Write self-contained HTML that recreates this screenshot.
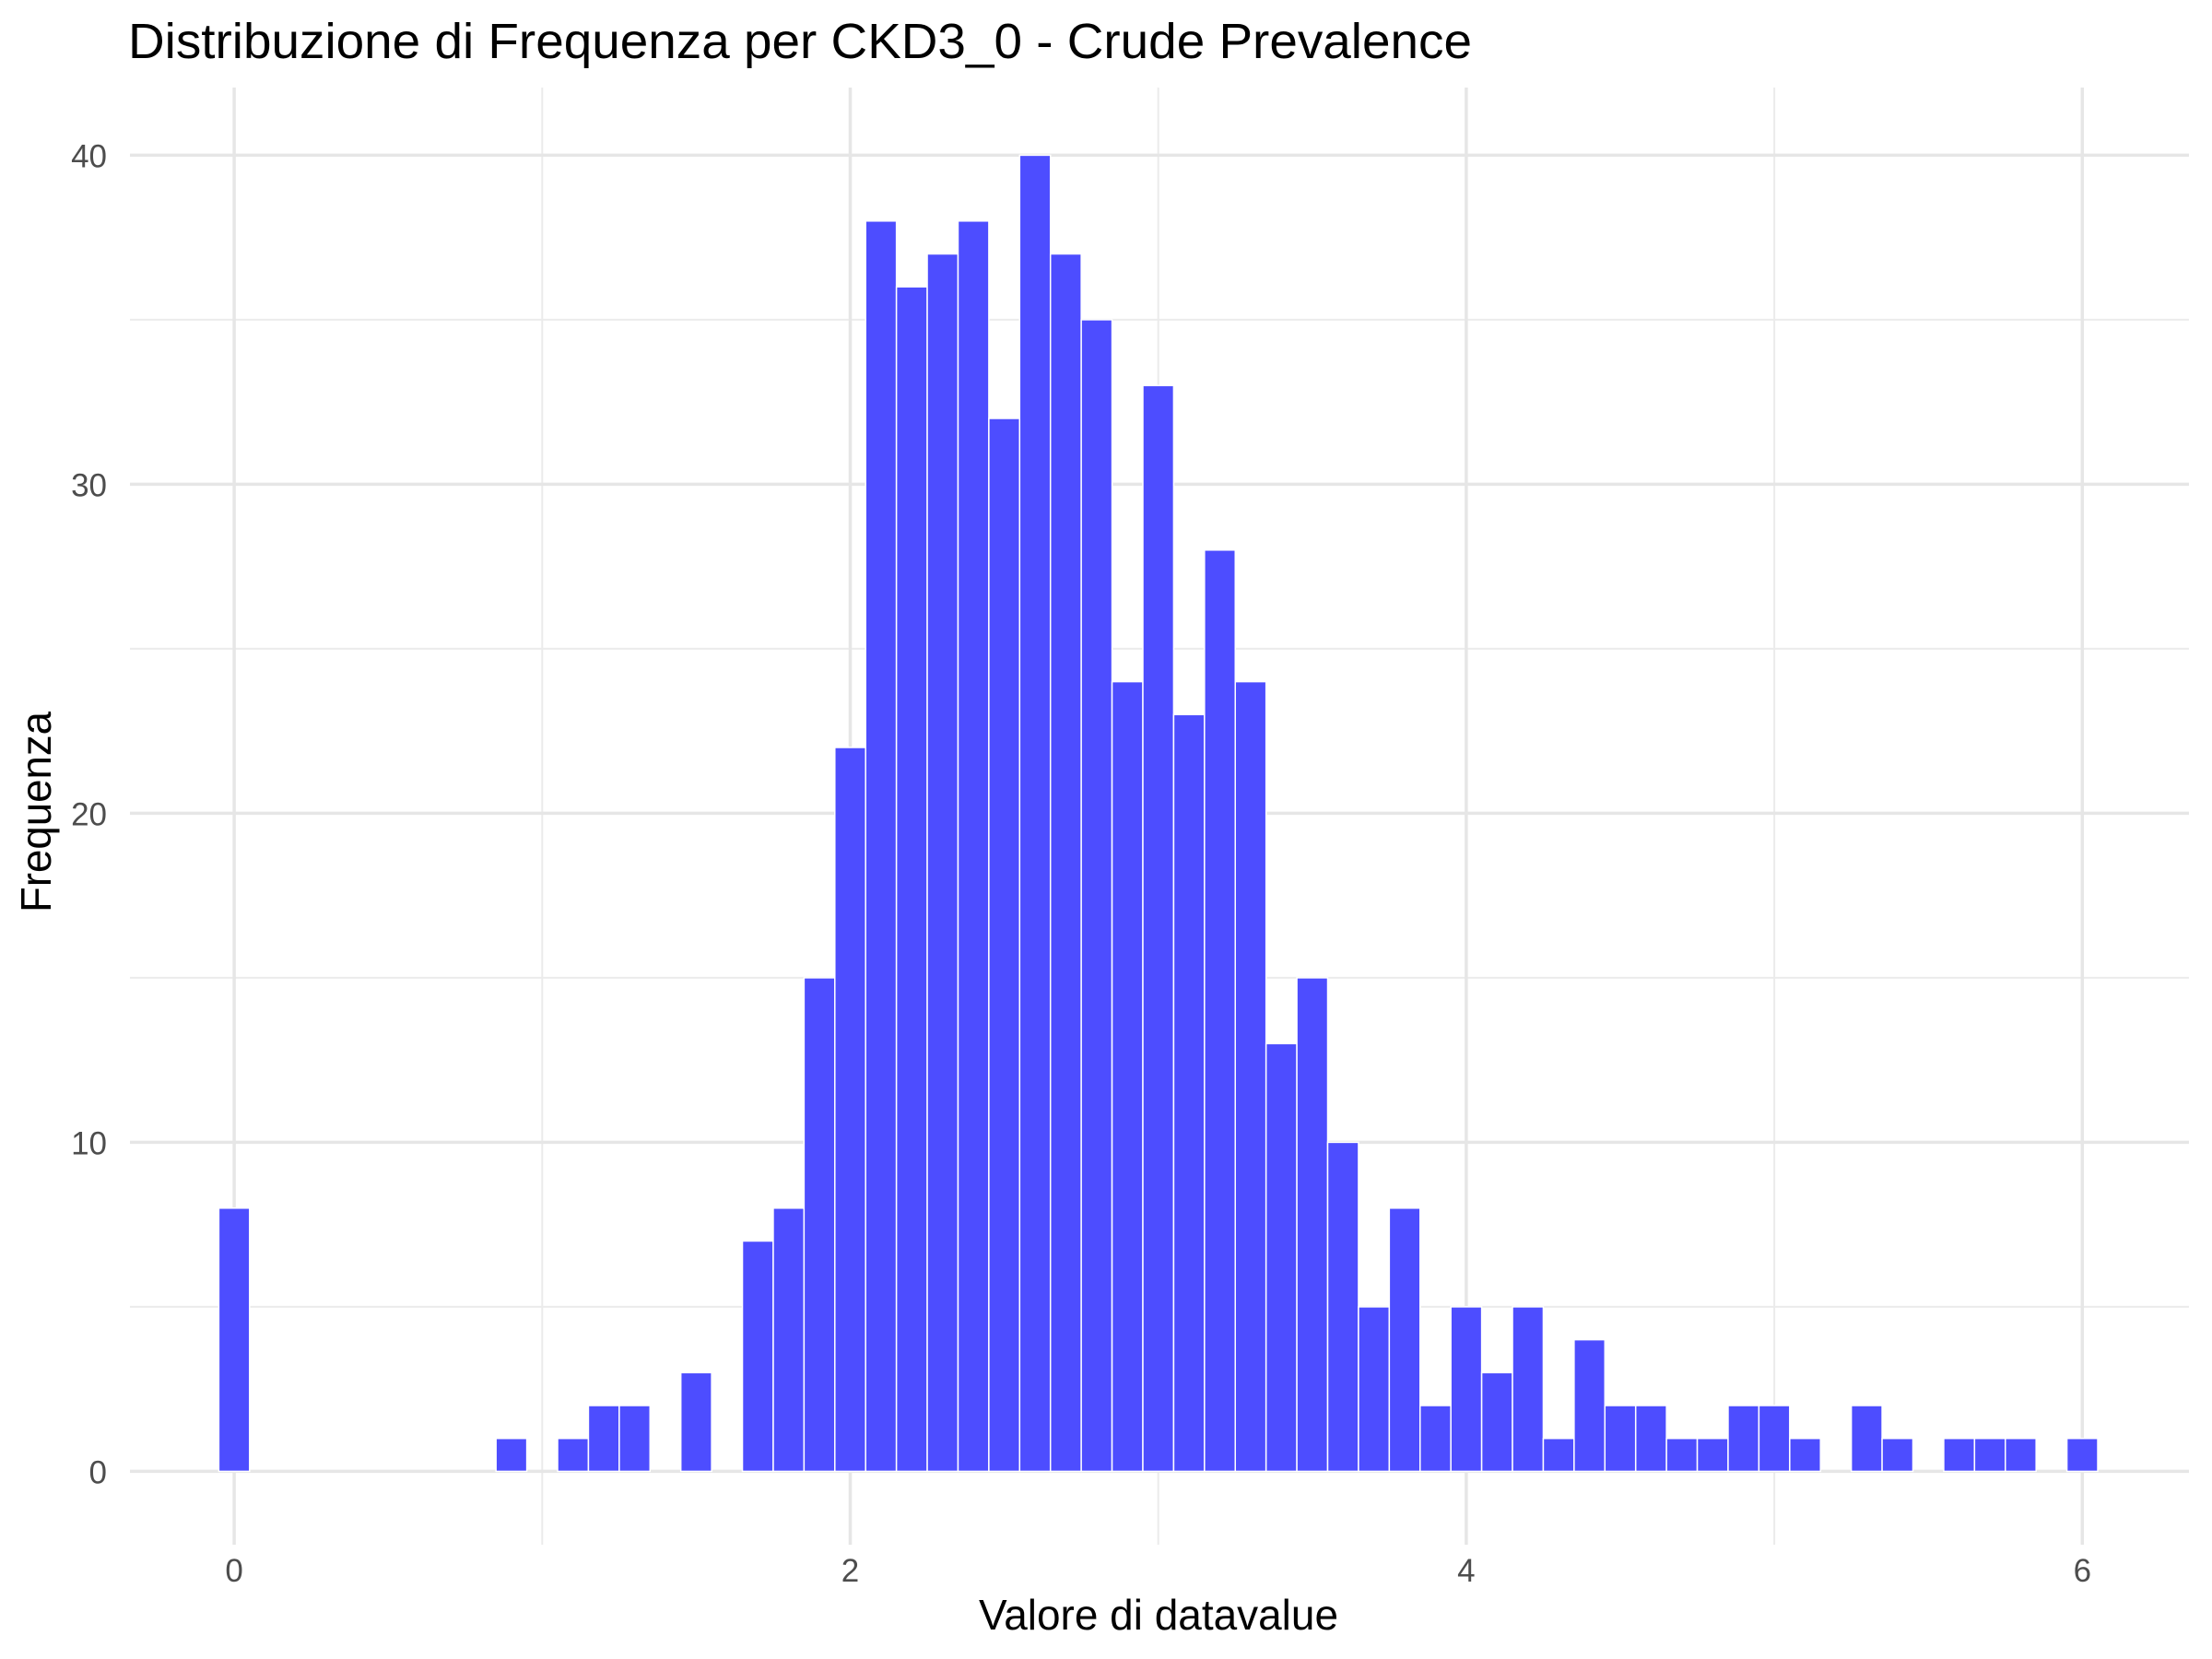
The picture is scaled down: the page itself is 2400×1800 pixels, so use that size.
<!DOCTYPE html>
<html><head><meta charset="utf-8"><style>
html,body{margin:0;padding:0;background:#fff;}
svg{display:block;font-family:"Liberation Sans",Arial,sans-serif;}
</style></head><body>
<svg id="chart" width="2400" height="1800" viewBox="0 0 2400 1800">
<rect width="2400" height="1800" fill="#fff"/>
<g id="grid"></g><g id="bars"></g><g id="ticks"></g>
<text x="139" y="63" font-size="54" fill="#000" textLength="1458" lengthAdjust="spacingAndGlyphs">Distribuzione di Frequenza per CKD3_0 - Crude Prevalence</text>
<text x="1257" y="1768" font-size="46" fill="#000" text-anchor="middle" textLength="390" lengthAdjust="spacingAndGlyphs">Valore di datavalue</text>
<text transform="translate(55,990) rotate(-90)" font-size="46" fill="#000" textLength="218" lengthAdjust="spacingAndGlyphs">Frequenza</text>
</svg>
<script>
const binCenters=[0,0.9,1.1,1.2,1.3,1.5,1.7,1.8,1.9,2.0,2.1,2.2,2.3,2.4,2.5,2.6,2.7,2.8,2.9,3.0,3.1,3.2,3.3,3.4,3.5,3.6,3.7,3.8,3.9,4.0,4.1,4.2,4.3,4.4,4.5,4.6,4.7,4.8,4.9,5.0,5.1,5.3,5.4,5.6,5.7,5.8,6.0];
const counts=[8,1,1,2,2,3,7,8,15,22,38,36,37,38,32,40,37,35,24,33,23,28,24,13,15,10,5,8,2,5,3,5,1,4,2,2,1,1,2,2,1,2,1,1,1,1,1];
const xTicks=[0,2,4,6];
const xMinor=[1,3,5];
const yTicks=[0,10,20,30,40];
const yMinor=[5,15,25,35];
const binWidth=0.1;
const NS="http://www.w3.org/2000/svg";
const PL=141,PR=2375,PT=95,PB=1676;
const xs=v=>254.1+v*334.2;
const ys=v=>1596.4-v*35.7;
function mk(tag,attrs,parent){const e=document.createElementNS(NS,tag);for(const k in attrs)e.setAttribute(k,attrs[k]);parent.appendChild(e);return e;}
const grid=document.getElementById('grid'),bars=document.getElementById('bars'),ticks=document.getElementById('ticks');
yMinor.forEach(v=>{const l=mk('line',{x1:PL,x2:PR,y1:ys(v),y2:ys(v),stroke:'#ebebeb','stroke-width':2},grid);

});
xMinor.forEach(v=>{const l=mk('line',{x1:xs(v),x2:xs(v),y1:PT,y2:PB,stroke:'#ebebeb','stroke-width':2},grid);

});
yTicks.forEach(v=>{const l=mk('line',{x1:PL,x2:PR,y1:ys(v),y2:ys(v),stroke:'#e6e6e6','stroke-width':3.5},grid);


const t=mk('text',{x:116,y:ys(v)+13,'font-size':35,fill:'#4d4d4d','text-anchor':'end'},ticks);t.textContent=v;

});
xTicks.forEach(v=>{const l=mk('line',{x1:xs(v),x2:xs(v),y1:PT,y2:PB,stroke:'#e6e6e6','stroke-width':3.5},grid);


const t=mk('text',{x:xs(v),y:1716,'font-size':35,fill:'#4d4d4d','text-anchor':'middle'},ticks);t.textContent=v;

});
binCenters.forEach((c,i)=>{const x0=xs(c-binWidth/2),x1=xs(c+binWidth/2);
const r=mk('rect',{x:x0,y:ys(counts[i]),width:x1-x0,height:ys(0)-ys(counts[i]),fill:'#4d4dff',stroke:'#ffffff','stroke-width':1.5},bars);

});
</script>
</body></html>
